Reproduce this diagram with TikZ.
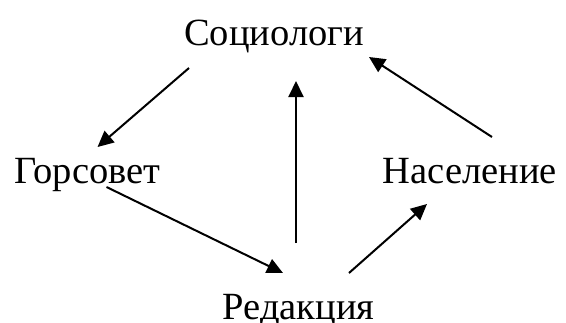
\documentclass[tikz,border=0pt]{standalone}
\usepackage{fontspec}
\setmainfont{Liberation Serif}
\usetikzlibrary{arrows.meta}
\begin{document}
\begin{tikzpicture}[x=1pt, y=-1pt, >={Triangle[length=16pt, width=15pt]}]
				\tikzset{
					word/.style={anchor=base, inner sep=0, font=\fontsize{38.5}{40}\selectfont},
					link/.style={->, line width=2pt}
				}
				\useasboundingbox (0,0) rectangle (566,322);
				\node[word] (soc) at (274,45) {Социологи};
				\node[word] (gor) at (87.5,183) {Горсовет};
				\node[word] (nas) at (470,183) {Население};
				\node[word] (red) at (298.5,319) {Редакция};

				\draw[link] ([xshift=-85pt, yshift=-23pt]soc.base) -- ([xshift=10pt, yshift=36pt]gor.base);
				\draw[link] ([xshift=19pt, yshift=-4pt]gor.base) -- ([xshift=-15.5pt, yshift=46pt]red.base);
				\draw[link] ([xshift=-2.5pt, yshift=76pt]red.base) -- ([xshift=22pt, yshift=-36pt]soc.base);
				\draw[link] ([xshift=50.5pt, yshift=46pt]red.base) -- ([xshift=-43pt, yshift=-21pt]nas.base);
				\draw[link] ([xshift=22pt, yshift=46pt]nas.base) -- ([xshift=95pt, yshift=-12pt]soc.base);

			\end{tikzpicture}
\end{document}
